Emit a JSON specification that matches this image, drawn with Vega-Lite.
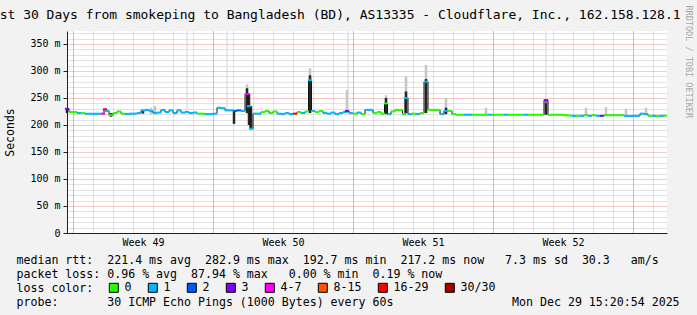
{
  "$schema": "https://vega.github.io/schema/vega-lite/v6.json",
  "width": 600,
  "height": 202,
  "autosize": {"type": "none"},
  "padding": {"left": 67, "top": 31, "right": 30, "bottom": 82},
  "background": "#f2f2f2",
  "config": {
    "view": {"fill": "#ffffff", "stroke": null},
    "font": "DejaVu Sans Mono",
    "axis": {
      "labelFont": "DejaVu Sans Mono",
      "titleFont": "DejaVu Sans Mono",
      "labelColor": "#000000",
      "titleColor": "#000000",
      "titleFontWeight": "normal",
      "domainColor": "#1f1f1f",
      "tickColor": "#1f1f1f",
      "labelFlush": false,
      "labelOverlap": false
    }
  },
  "title": {
    "text": "Last 30 Days from smokeping to Bangladesh (BD), AS13335 - Cloudflare, Inc., 162.158.128.1",
    "anchor": "start",
    "frame": "group",
    "dx": -83,
    "offset": -27,
    "baseline": "alphabetic",
    "font": "DejaVu Sans Mono",
    "fontSize": 13,
    "fontWeight": "normal",
    "color": "#000000"
  },
  "datasets": {
    "median": [
      {"d": -0.3, "rtt": 230, "loss": "3"}, {"d": -0.1, "rtt": 224, "loss": "0"}, {"d": 0.1, "rtt": 224, "loss": "0"}, {"d": 0.3, "rtt": 222, "loss": "1"},
      {"d": 0.5, "rtt": 222, "loss": "0"}, {"d": 0.7, "rtt": 221, "loss": "1"}, {"d": 0.9, "rtt": 221, "loss": "1"}, {"d": 1.1, "rtt": 221, "loss": "1"},
      {"d": 1.3, "rtt": 221, "loss": "1"}, {"d": 1.5, "rtt": 221, "loss": "4-7"}, {"d": 1.6, "rtt": 229, "loss": "16-29"}, {"d": 1.7, "rtt": 226, "loss": "1"},
      {"d": 1.9, "rtt": 218, "loss": "0"}, {"d": 2.1, "rtt": 222, "loss": "0"}, {"d": 2.3, "rtt": 225, "loss": "0"}, {"d": 2.5, "rtt": 221, "loss": "0"},
      {"d": 2.7, "rtt": 220, "loss": "1"}, {"d": 2.9, "rtt": 221, "loss": "1"}, {"d": 3.1, "rtt": 221, "loss": "1"}, {"d": 3.3, "rtt": 222, "loss": "1"},
      {"d": 3.5, "rtt": 227, "loss": "1"}, {"d": 3.7, "rtt": 228, "loss": "1"}, {"d": 3.9, "rtt": 226, "loss": "1"}, {"d": 4.1, "rtt": 222, "loss": "1"},
      {"d": 4.3, "rtt": 223, "loss": "1"}, {"d": 4.5, "rtt": 228, "loss": "1"}, {"d": 4.7, "rtt": 224, "loss": "1"}, {"d": 4.9, "rtt": 227, "loss": "1"},
      {"d": 5.1, "rtt": 222, "loss": "1"}, {"d": 5.3, "rtt": 227, "loss": "1"}, {"d": 5.5, "rtt": 223, "loss": "1"}, {"d": 5.7, "rtt": 224, "loss": "1"},
      {"d": 5.9, "rtt": 222, "loss": "1"}, {"d": 6.1, "rtt": 223, "loss": "1"}, {"d": 6.3, "rtt": 221, "loss": "0"}, {"d": 6.5, "rtt": 221, "loss": "0"},
      {"d": 6.7, "rtt": 220, "loss": "1"}, {"d": 6.9, "rtt": 220, "loss": "1"}, {"d": 7.1, "rtt": 221, "loss": "1"}, {"d": 7.3, "rtt": 232, "loss": "1"},
      {"d": 7.5, "rtt": 231, "loss": "1"}, {"d": 7.7, "rtt": 227, "loss": "1"}, {"d": 7.9, "rtt": 227, "loss": "1"}, {"d": 8.1, "rtt": 226, "loss": "2"},
      {"d": 8.3, "rtt": 227, "loss": "2"}, {"d": 8.5, "rtt": 226, "loss": "1"}, {"d": 8.7, "rtt": 257, "loss": "4-7"}, {"d": 8.8, "rtt": 235, "loss": "1"},
      {"d": 8.9, "rtt": 193, "loss": "1"}, {"d": 9.1, "rtt": 221, "loss": "1"}, {"d": 9.3, "rtt": 221, "loss": "1"}, {"d": 9.5, "rtt": 224, "loss": "0"},
      {"d": 9.7, "rtt": 226, "loss": "0"}, {"d": 9.9, "rtt": 222, "loss": "0"}, {"d": 10.1, "rtt": 225, "loss": "0"}, {"d": 10.3, "rtt": 221, "loss": "1"},
      {"d": 10.5, "rtt": 220, "loss": "1"}, {"d": 10.7, "rtt": 222, "loss": "1"}, {"d": 10.9, "rtt": 220, "loss": "1"}, {"d": 11.1, "rtt": 221, "loss": "16-29"},
      {"d": 11.3, "rtt": 224, "loss": "0"}, {"d": 11.5, "rtt": 222, "loss": "1"}, {"d": 11.7, "rtt": 225, "loss": "0"}, {"d": 11.85, "rtt": 283, "loss": "1"},
      {"d": 12.0, "rtt": 226, "loss": "1"}, {"d": 12.2, "rtt": 224, "loss": "0"}, {"d": 12.4, "rtt": 226, "loss": "0"}, {"d": 12.6, "rtt": 222, "loss": "1"},
      {"d": 12.8, "rtt": 221, "loss": "1"}, {"d": 13.0, "rtt": 223, "loss": "1"}, {"d": 13.2, "rtt": 220, "loss": "1"}, {"d": 13.4, "rtt": 222, "loss": "1"},
      {"d": 13.6, "rtt": 224, "loss": "1"}, {"d": 13.7, "rtt": 226, "loss": "3"}, {"d": 13.9, "rtt": 222, "loss": "1"}, {"d": 14.1, "rtt": 221, "loss": "0"},
      {"d": 14.3, "rtt": 223, "loss": "1"}, {"d": 14.5, "rtt": 220, "loss": "0"}, {"d": 14.7, "rtt": 228, "loss": "1"}, {"d": 14.9, "rtt": 228, "loss": "1"},
      {"d": 15.1, "rtt": 222, "loss": "0"}, {"d": 15.3, "rtt": 224, "loss": "0"}, {"d": 15.5, "rtt": 221, "loss": "0"}, {"d": 15.65, "rtt": 240, "loss": "0"},
      {"d": 15.8, "rtt": 220, "loss": "1"}, {"d": 16.0, "rtt": 225, "loss": "0"}, {"d": 16.2, "rtt": 228, "loss": "0"}, {"d": 16.4, "rtt": 228, "loss": "0"},
      {"d": 16.55, "rtt": 220, "loss": "0"}, {"d": 16.65, "rtt": 250, "loss": "1"}, {"d": 16.85, "rtt": 220, "loss": "1"}, {"d": 17.05, "rtt": 221, "loss": "0"},
      {"d": 17.25, "rtt": 220, "loss": "1"}, {"d": 17.45, "rtt": 222, "loss": "0"}, {"d": 17.65, "rtt": 280, "loss": "1"}, {"d": 17.85, "rtt": 228, "loss": "0"},
      {"d": 18.05, "rtt": 228, "loss": "0"}, {"d": 18.25, "rtt": 228, "loss": "0"}, {"d": 18.45, "rtt": 220, "loss": "1"}, {"d": 18.65, "rtt": 226, "loss": "1"},
      {"d": 18.85, "rtt": 226, "loss": "0"}, {"d": 19.05, "rtt": 220, "loss": "0"}, {"d": 19.25, "rtt": 219, "loss": "0"}, {"d": 19.45, "rtt": 219, "loss": "0"},
      {"d": 19.65, "rtt": 219, "loss": "1"}, {"d": 19.85, "rtt": 219, "loss": "1"}, {"d": 20.05, "rtt": 219, "loss": "0"}, {"d": 20.25, "rtt": 219, "loss": "0"},
      {"d": 20.45, "rtt": 219, "loss": "0"}, {"d": 20.65, "rtt": 219, "loss": "0"}, {"d": 20.85, "rtt": 219, "loss": "1"}, {"d": 21.05, "rtt": 219, "loss": "0"},
      {"d": 21.25, "rtt": 219, "loss": "0"}, {"d": 21.45, "rtt": 219, "loss": "0"}, {"d": 21.65, "rtt": 219, "loss": "1"}, {"d": 21.85, "rtt": 219, "loss": "0"},
      {"d": 22.05, "rtt": 219, "loss": "0"}, {"d": 22.25, "rtt": 219, "loss": "0"}, {"d": 22.45, "rtt": 219, "loss": "0"}, {"d": 22.65, "rtt": 219, "loss": "1"},
      {"d": 22.85, "rtt": 219, "loss": "0"}, {"d": 23.05, "rtt": 219, "loss": "0"}, {"d": 23.25, "rtt": 219, "loss": "0"}, {"d": 23.45, "rtt": 219, "loss": "0"},
      {"d": 23.65, "rtt": 246, "loss": "3"}, {"d": 23.85, "rtt": 219, "loss": "0"}, {"d": 24.05, "rtt": 219, "loss": "0"}, {"d": 24.25, "rtt": 219, "loss": "0"},
      {"d": 24.45, "rtt": 219, "loss": "0"}, {"d": 24.65, "rtt": 218, "loss": "0"}, {"d": 24.85, "rtt": 217.5, "loss": "0"}, {"d": 25.05, "rtt": 217, "loss": "1"},
      {"d": 25.25, "rtt": 217, "loss": "0"}, {"d": 25.45, "rtt": 217, "loss": "1"}, {"d": 25.65, "rtt": 218, "loss": "0"}, {"d": 25.85, "rtt": 217, "loss": "1"},
      {"d": 26.05, "rtt": 218, "loss": "0"}, {"d": 26.25, "rtt": 217, "loss": "1"}, {"d": 26.45, "rtt": 217, "loss": "3"}, {"d": 26.65, "rtt": 218, "loss": "0"},
      {"d": 26.85, "rtt": 218, "loss": "0"}, {"d": 27.05, "rtt": 218, "loss": "0"}, {"d": 27.25, "rtt": 218, "loss": "0"}, {"d": 27.45, "rtt": 218, "loss": "0"},
      {"d": 27.65, "rtt": 217, "loss": "1"}, {"d": 27.85, "rtt": 216.5, "loss": "1"}, {"d": 28.05, "rtt": 217, "loss": "1"}, {"d": 28.25, "rtt": 217, "loss": "1"},
      {"d": 28.45, "rtt": 221, "loss": "1"}, {"d": 28.65, "rtt": 220, "loss": "1"}, {"d": 28.85, "rtt": 217, "loss": "0"}, {"d": 29.05, "rtt": 217, "loss": "1"},
      {"d": 29.25, "rtt": 216.5, "loss": "0"}, {"d": 29.45, "rtt": 217, "loss": "1"}, {"d": 29.6, "rtt": 217.2, "loss": "0"}
    ],
    "smokeLight": [
      {"d": 3.9, "lo": 220, "hi": 232}, {"d": 4.1, "lo": 220, "hi": 235}, {"d": 8.7, "lo": 222, "hi": 275},
      {"d": 11.85, "lo": 222, "hi": 305}, {"d": 13.7, "lo": 222, "hi": 265}, {"d": 15.65, "lo": 222, "hi": 255},
      {"d": 16.65, "lo": 222, "hi": 290}, {"d": 17.65, "lo": 222, "hi": 311}, {"d": 18.65, "lo": 222, "hi": 250},
      {"d": 20.65, "lo": 219, "hi": 232}, {"d": 25.65, "lo": 217, "hi": 232}, {"d": 26.65, "lo": 217, "hi": 233},
      {"d": 27.65, "lo": 217, "hi": 230}, {"d": 28.65, "lo": 218, "hi": 232}
    ],
    "smokeDark": [
      {"d": -0.3, "lo": 222, "hi": 231}, {"d": 1.9, "lo": 215, "hi": 222}, {"d": 3.5, "lo": 221, "hi": 227},
      {"d": 8.05, "lo": 202, "hi": 226}, {"d": 8.7, "lo": 222, "hi": 268}, {"d": 8.8, "lo": 200, "hi": 258},
      {"d": 8.9, "lo": 193, "hi": 235}, {"d": 11.85, "lo": 222, "hi": 292}, {"d": 15.65, "lo": 220, "hi": 250},
      {"d": 16.65, "lo": 222, "hi": 262}, {"d": 17.65, "lo": 222, "hi": 285}, {"d": 18.65, "lo": 220, "hi": 232},
      {"d": 23.65, "lo": 219, "hi": 246}
    ],
    "outliers": [
      {"d": 5.7, "lo": 225, "hi": 400}, {"d": 7.7, "lo": 228, "hi": 400},
      {"d": 13.75, "lo": 226, "hi": 400}, {"d": 23.65, "lo": 240, "hi": 400}
    ]
  },
  "layer": [
    {
      "data": {"name": "smokeLight"},
      "mark": {"type": "rule", "color": "#c4c4c4", "strokeWidth": 2.5},
      "encoding": {
        "x": {"field": "d", "type": "quantitative", "scale": {"domain": [-0.3, 29.7], "nice": false, "zero": false},
          "axis": {"orient": "bottom", "values": [0,1,2,3,4,5,6,7,8,9,10,11,12,13,14,15,16,17,18,19,20,21,22,23,24,25,26,27,28,29],
            "grid": true, "gridColor": "#8f8f8f", "gridOpacity": 0.5, "gridDash": [1, 1], "gridWidth": 1,
            "labels": false, "ticks": false, "domain": false, "title": null}},
        "y": {"field": "lo", "type": "quantitative", "scale": {"domain": [0, 374], "nice": false, "zero": false},
          "axis": {"orient": "left", "values": [10,20,30,40,60,70,80,90,110,120,130,140,160,170,180,190,210,220,230,240,260,270,280,290,310,320,330,340,360,370],
            "grid": true, "gridColor": "#8f8f8f", "gridOpacity": 0.5, "gridDash": [1, 1], "gridWidth": 1,
            "labels": false, "ticks": false, "domain": false, "title": null}},
        "y2": {"field": "hi"}
      }
    },
    {
      "data": {"name": "smokeDark"},
      "mark": {"type": "rule", "color": "#262626", "strokeWidth": 2.5},
      "encoding": {
        "x": {"field": "d", "type": "quantitative", "scale": {"domain": [-0.3, 29.7], "nice": false, "zero": false},
          "axis": {"orient": "bottom", "values": [0, 7, 14, 21, 28],
            "grid": true, "gridColor": "#de4f4f", "gridOpacity": 0.6, "gridDash": [1, 1], "gridWidth": 1,
            "labels": false, "ticks": false, "domain": false, "title": null}},
        "y": {"field": "lo", "type": "quantitative", "scale": {"domain": [0, 374], "nice": false, "zero": false},
          "axis": {"orient": "left", "values": [0, 50, 100, 150, 200, 250, 300, 350],
            "grid": true, "gridColor": "#de4f4f", "gridOpacity": 0.6, "gridDash": [1, 1], "gridWidth": 1,
            "labelExpr": "datum.value == 0 ? '0' : datum.value + ' m'",
            "labelFontSize": 10, "labelPadding": 3, "ticks": true, "tickSize": 4,
            "domain": true, "domainColor": "#1f1f1f",
            "title": "Seconds", "titleFontSize": 11.5, "titleX": -57, "titleY": 101,
            "titleAngle": -90, "titleAlign": "center", "titleBaseline": "middle"}},
        "y2": {"field": "hi"}
      }
    },
    {
      "data": {"name": "outliers"},
      "mark": {"type": "rule", "color": "#d2d2d2", "strokeWidth": 1, "clip": true},
      "encoding": {
        "x": {"field": "d", "type": "quantitative", "scale": {"domain": [-0.3, 29.7], "nice": false, "zero": false},
          "axis": {"orient": "bottom", "values": [3.5, 10.5, 17.5, 24.5],
            "labelExpr": "'Week ' + (49 + floor(datum.value / 7))",
            "grid": false, "ticks": false, "tickSize": 0, "labelPadding": 4, "labelFontSize": 10,
            "domain": true, "domainColor": "#1f1f1f",
            "title": [
              "median rtt:\u00a0\u00a0221.4 ms avg\u00a0\u00a0282.9 ms max\u00a0\u00a0192.7 ms min\u00a0\u00a0217.2 ms now\u00a0\u00a0\u00a07.3 ms sd\u00a0\u00a030.3\u00a0\u00a0\u00a0am/s",
              "packet loss: 0.96 % avg\u00a0\u00a087.94 % max\u00a0\u00a0\u00a00.00 % min\u00a0\u00a00.19 % now",
              "loss color:",
              "probe:\u00a0\u00a0\u00a0\u00a0\u00a0\u00a0\u00a030 ICMP Echo Pings (1000 Bytes) every 60s\u00a0\u00a0\u00a0\u00a0\u00a0\u00a0\u00a0\u00a0\u00a0\u00a0\u00a0\u00a0\u00a0\u00a0\u00a0\u00a0\u00a0Mon Dec 29 15:20:54 2025"
            ],
            "titleX": -51, "titleY": 30, "titleAnchor": "start", "titleAlign": "left",
            "titleBaseline": "alphabetic", "titleFontSize": 11.6, "titleLineHeight": 14}},
        "y": {"field": "lo", "type": "quantitative", "scale": {"domain": [0, 374], "nice": false, "zero": false},
          "axis": {"orient": "right", "labels": false, "ticks": false, "domain": false, "grid": false,
            "title": "RRDTOOL / TOBI OETIKER", "titleFontSize": 8.5, "titleColor": "#a8a8a8",
            "titleAngle": 90, "titleX": 21, "titleY": -26, "titleAlign": "left", "titleBaseline": "middle"}},
        "y2": {"field": "hi"}
      }
    },
    {
      "data": {"name": "median"},
      "mark": {"type": "line", "interpolate": "step", "color": "#111111", "strokeWidth": 1},
      "encoding": {
        "x": {"field": "d", "type": "quantitative", "scale": {"domain": [-0.3, 29.7], "nice": false, "zero": false}, "axis": null},
        "y": {"field": "rtt", "type": "quantitative", "scale": {"domain": [0, 374], "nice": false, "zero": false}, "axis": null}
      }
    },
    {
      "data": {"name": "median"},
      "mark": {"type": "tick", "orient": "horizontal", "size": 4.2, "thickness": 2, "opacity": 1},
      "encoding": {
        "x": {"field": "d", "type": "quantitative", "scale": {"domain": [-0.3, 29.7], "nice": false, "zero": false}, "axis": null},
        "y": {"field": "rtt", "type": "quantitative", "scale": {"domain": [0, 374], "nice": false, "zero": false}, "axis": null},
        "color": {
          "field": "loss", "type": "nominal",
          "scale": {"domain": ["0", "1", "2", "3", "4-7", "8-15", "16-29", "30/30"],
            "range": ["#26ff00", "#00b8ff", "#0059ff", "#7e00ff", "#ff00ff", "#ff5500", "#ff0000", "#a10000"]},
          "legend": {
            "title": null, "orient": "none", "legendX": 41, "legendY": 251,
            "direction": "horizontal", "gridAlign": "none", "columnPadding": 14,
            "symbolType": "square", "symbolSize": 81, "symbolStrokeColor": "#000000", "symbolStrokeWidth": 1,
            "symbolOpacity": 1, "labelFont": "DejaVu Sans Mono", "labelFontSize": 11.6, "labelColor": "#000000",
            "labelOffset": 5, "padding": 0
          }
        }
      }
    }
  ],
  "resolve": {"axis": {"x": "independent", "y": "independent"}}
}
